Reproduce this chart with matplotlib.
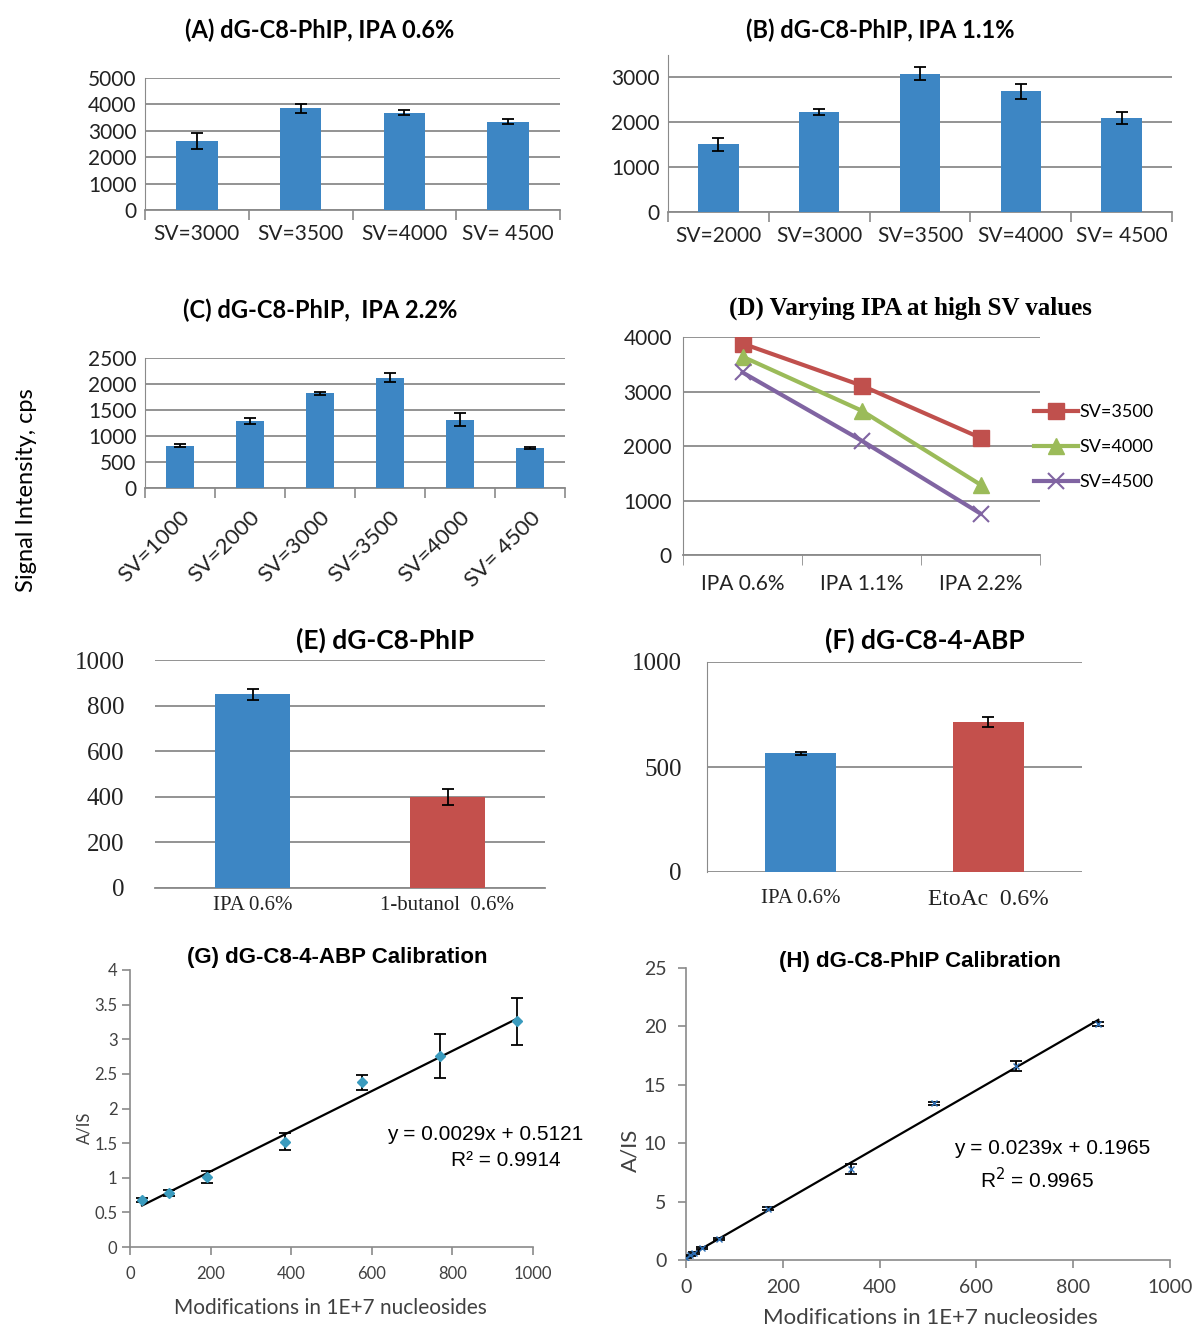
import numpy as np
import matplotlib
matplotlib.use('Agg')
from matplotlib import pyplot as plt

# ---------------- data ----------------
# (A) dG-C8-PhIP, IPA 0.6%
a_labels = ['SV=3000', 'SV=3500', 'SV=4000', 'SV= 4500']
a_vals = [2600, 3850, 3690, 3350]
a_errs = [300, 160, 110, 100]
# (B) dG-C8-PhIP, IPA 1.1%
b_labels = ['SV=2000', 'SV=3000', 'SV=3500', 'SV=4000', 'SV= 4500']
b_vals = [1510, 2230, 3080, 2690, 2100]
b_errs = [150, 70, 145, 170, 140]
# (C) dG-C8-PhIP, IPA 2.2%
c_labels = ['SV=1000', 'SV=2000', 'SV=3000', 'SV=3500', 'SV=4000', 'SV= 4500']
c_vals = [815, 1285, 1820, 2120, 1310, 775]
c_errs = [25, 55, 30, 90, 125, 20]
# (D) Varying IPA at high SV values
d_labels = ['IPA 0.6%', 'IPA 1.1%', 'IPA 2.2%']
d_sv3500 = [3880, 3110, 2150]
d_sv4000 = [3640, 2650, 1290]
d_sv4500 = [3350, 2100, 760]
# (E) dG-C8-PhIP
e_labels = ['IPA 0.6%', '1-butanol  0.6%']
e_vals = [850, 400]
e_errs = [25, 35]
# (F) dG-C8-4-ABP
f_labels = ['IPA 0.6%', 'EtoAc  0.6%']
f_vals = [565, 715]
f_errs = [8, 25]
# (G) dG-C8-4-ABP Calibration
g_x = [30, 96, 192, 384, 576, 768, 960]
g_y = [0.68, 0.78, 1.01, 1.52, 2.38, 2.76, 3.26]
g_err = [0.03, 0.04, 0.09, 0.12, 0.11, 0.32, 0.34]
g_slope, g_icept = 0.0029, 0.5121
# (H) dG-C8-PhIP Calibration
h_x = [0, 8.5, 17, 34, 68, 170, 341, 512, 682, 852]
h_y = [0.2, 0.4, 0.6, 1.0, 1.8, 4.4, 7.8, 13.4, 16.6, 20.2]
h_err = [0.05, 0.05, 0.05, 0.1, 0.1, 0.1, 0.45, 0.15, 0.45, 0.15]
h_slope, h_icept = 0.0239, 0.1965

# ---------------- style ----------------
W, H = 1204, 1330
blue = '#3D86C4'
red = '#C4504C'
grid_c = '#8A8A8A'
axis_c = '#8A8A8A'
calibri = ['Lato', 'DejaVu Sans']
serif = ['Liberation Serif', 'DejaVu Serif']
arial = ['Liberation Sans', 'DejaVu Sans']

fig = plt.figure(figsize=(W / 100, H / 100), dpi=100)
fig.patch.set_facecolor('white')


def add_ax(l, t, r, b):
    # pixel box -> figure fraction
    return fig.add_axes([l / W, 1 - b / H, (r - l) / W, (b - t) / H])


def ftext(x, y, s, **kw):
    fig.text(x / W, 1 - y / H, s, **kw)


def bar_panel(ax, labels, vals, errs, ymax, ystep, colors, width=0.4,
              tickfont=calibri, tsize=15, left_spine=True, cat_ticks=True):
    x = np.arange(len(labels))
    ax.bar(x, vals, width=width, color=colors, yerr=errs, capsize=4,
           error_kw=dict(ecolor='black', elinewidth=1.3, capthick=1.3), zorder=3)
    ax.set_xlim(-0.5, len(labels) - 0.5)
    ax.set_ylim(0, ymax)
    ax.set_yticks(np.arange(0, ymax + 1, ystep))
    ax.yaxis.grid(True, color=grid_c, lw=1.3)
    ax.set_axisbelow(True)
    for s in ['top', 'right']:
        ax.spines[s].set_visible(False)
    ax.spines['left'].set_visible(left_spine)
    ax.spines['left'].set_color(axis_c)
    ax.spines['bottom'].set_color(axis_c)
    ax.spines['bottom'].set_linewidth(1.3)
    ax.tick_params(axis='y', length=0, pad=6)
    ax.set_xticks(x)
    ax.set_xticklabels(labels)
    ax.tick_params(axis='x', length=0, pad=10)
    if cat_ticks:
        ax.set_xticks(np.arange(-0.5, len(labels)), minor=True)
        ax.tick_params(axis='x', which='minor', length=7, color=axis_c,
                       direction='out', width=1.2)
    for t in ax.get_xticklabels() + ax.get_yticklabels():
        t.set_family(tickfont)
        t.set_fontsize(tsize)
        t.set_color('#222222')


# ---------------- (A) ----------------
axA = add_ax(145, 78, 560, 210)
bar_panel(axA, a_labels, a_vals, a_errs, 5000, 1000, blue)
ftext(320, 30, '(A) dG-C8-PhIP, IPA 0.6%', ha='center', va='center',
      family=calibri, fontsize=17, fontweight='bold')

# ---------------- (B) ----------------
axB = add_ax(668, 55, 1172, 212)
bar_panel(axB, b_labels, b_vals, b_errs, 3500, 1000, blue)
axB.set_yticks([0, 1000, 2000, 3000])
for t in axB.get_yticklabels():
    t.set_family(calibri)
    t.set_fontsize(15)
    t.set_color('#222222')
ftext(880, 30, '(B) dG-C8-PhIP, IPA 1.1%', ha='center', va='center',
      family=calibri, fontsize=17, fontweight='bold')

# ---------------- (C) ----------------
axC = add_ax(145, 358, 565, 488)
bar_panel(axC, c_labels, c_vals, c_errs, 2500, 500, blue)
for t in axC.get_xticklabels():
    t.set_rotation(45)
    t.set_ha('right')
    t.set_rotation_mode('anchor')
    t.set_fontsize(16)
axC.tick_params(axis='x', pad=14)
ftext(320, 310, '(C) dG-C8-PhIP,  IPA 2.2%', ha='center', va='center',
      family=calibri, fontsize=17, fontweight='bold')
ftext(27, 490, 'Signal Intensity, cps', ha='center', va='center', rotation=90,
      family=calibri, fontsize=17)

# ---------------- (D) ----------------
axD = add_ax(683, 337, 1040, 555)
xd = np.arange(len(d_labels))
axD.plot(xd, d_sv3500, color='#C0504D', lw=3, marker='s', ms=12,
         label='SV=3500', zorder=4)
axD.plot(xd, d_sv4000, color='#9BBB59', lw=3, marker='^', ms=12,
         label='SV=4000', zorder=4)
axD.plot(xd, d_sv4500, color='#8064A2', lw=3, marker='x', ms=12, mew=1.5,
         label='SV=4500', zorder=4)
axD.set_xlim(-0.5, 2.5)
axD.set_ylim(0, 4000)
axD.set_yticks(np.arange(0, 4001, 1000))
axD.yaxis.grid(True, color=grid_c, lw=1.3)
axD.set_axisbelow(True)
for s in ['top', 'right']:
    axD.spines[s].set_visible(False)
axD.spines['left'].set_color(axis_c)
axD.spines['bottom'].set_color(axis_c)
axD.spines['bottom'].set_linewidth(1.3)
axD.set_xticks(xd)
axD.set_xticklabels(d_labels)
axD.tick_params(axis='x', length=0, pad=14)
axD.tick_params(axis='y', length=0, pad=8)
axD.set_xticks(np.arange(-0.5, 3), minor=True)
axD.tick_params(axis='x', which='minor', length=7, color=axis_c, direction='out')
for t in axD.get_xticklabels() + axD.get_yticklabels():
    t.set_family(calibri)
    t.set_fontsize(15)
    t.set_color('#222222')
axD.legend(loc='upper left', bbox_to_anchor=(1018 / W, 1 - 388 / H),
           bbox_transform=fig.transFigure, frameon=False, handlelength=2.4,
           handletextpad=0.1, labelspacing=1.05, prop={'family': calibri, 'size': 13})
ftext(910, 308, '(D) Varying IPA at high SV values', ha='center', va='center',
      family=serif, fontsize=18, fontweight='bold')

# ---------------- (E) ----------------
axE = add_ax(155, 660, 545, 888)
bar_panel(axE, e_labels, e_vals, e_errs, 1000, 200, [blue, red], width=0.38,
          tickfont=serif, tsize=18, left_spine=False, cat_ticks=False)
for t in axE.get_xticklabels():
    t.set_fontsize(15)
axE.tick_params(axis='x', pad=6)
axE.tick_params(axis='y', pad=22)
ftext(385, 640, '(E) dG-C8-PhIP', ha='center', va='center',
      family=calibri, fontsize=19, fontweight='bold')

# ---------------- (F) ----------------
axF = add_ax(707, 662, 1082, 872)
bar_panel(axF, f_labels, f_vals, f_errs, 1000, 500, [blue, red], width=0.38,
          tickfont=serif, tsize=18, left_spine=True, cat_ticks=False)
axF.spines['bottom'].set_visible(False)
for t in axF.get_xticklabels():
    t.set_fontsize(15)
axF.get_xticklabels()[1].set_fontsize(17)
axF.tick_params(axis='x', pad=12)
axF.tick_params(axis='y', pad=18)
ftext(925, 640, '(F) dG-C8-4-ABP', ha='center', va='center',
      family=calibri, fontsize=19, fontweight='bold')


def calib_panel(ax, xs, ys, errs, slope, icept, ymax, ystep, marker, mcolor,
                tsize, ypad):
    xl = np.array([min(xs), max(xs)])
    ax.plot(xl, slope * xl + icept, color='black', lw=1.6, zorder=2)
    ax.errorbar(xs, ys, yerr=errs, fmt=marker, color=mcolor, ms=5,
                ecolor='black', elinewidth=1.3, capsize=4, capthick=1.3, zorder=3)
    ax.set_xlim(0, 1000)
    ax.set_ylim(0, ymax)
    ax.set_xticks(np.arange(0, 1001, 200))
    ax.set_yticks(np.arange(0, ymax + 0.01, ystep))
    ax.yaxis.set_major_formatter(matplotlib.ticker.FuncFormatter(
        lambda v, p: ('%g' % v)))
    for s in ['top', 'right']:
        ax.spines[s].set_visible(False)
    for s in ['left', 'bottom']:
        ax.spines[s].set_color(axis_c)
        ax.spines[s].set_linewidth(1.2)
    ax.tick_params(direction='out', length=6, color=axis_c, width=1.2, pad=8)
    ax.tick_params(axis='y', pad=ypad)
    for t in ax.get_xticklabels() + ax.get_yticklabels():
        t.set_family(calibri)
        t.set_fontsize(tsize)
        t.set_color('#404040')


# ---------------- (G) ----------------
axG = add_ax(130, 970, 533, 1247)
calib_panel(axG, g_x, g_y, g_err, g_slope, g_icept, 4, 0.5, 'D', '#3A9BBE', 12, 3)
ftext(337, 957, '(G) dG-C8-4-ABP Calibration', ha='center', va='center',
      family=arial, fontsize=16, fontweight='bold')
ftext(330, 1308, 'Modifications in 1E+7 nucleosides', ha='center', va='center',
      family=calibri, fontsize=15, color='#404040')
ftext(84, 1128, 'A/IS', ha='center', va='center', rotation=90,
      family=calibri, fontsize=12, color='#404040')
ftext(583, 1135, 'y = 0.0029x + 0.5121', ha='right', va='center',
      family=arial, fontsize=15)
ftext(506, 1161, 'R² = 0.9914', ha='center', va='center',
      family=arial, fontsize=15)

# ---------------- (H) ----------------
axH = add_ax(686, 968, 1170, 1260)
calib_panel(axH, h_x, h_y, h_err, h_slope, h_icept, 25, 5, 'x', '#2E6FB5', 14, 8)
ftext(920, 962, '(H) dG-C8-PhIP Calibration', ha='center', va='center',
      family=arial, fontsize=16, fontweight='bold')
ftext(930, 1318, 'Modifications in 1E+7 nucleosides', ha='center', va='center',
      family=calibri, fontsize=16, color='#404040')
ftext(630, 1150, 'A/IS', ha='center', va='center', rotation=90,
      family=calibri, fontsize=16, color='#404040')
ftext(1150, 1148, 'y = 0.0239x + 0.1965', ha='right', va='center',
      family=arial, fontsize=15)
ftext(1037, 1180, 'R$^2$ = 0.9965', ha='center', va='center',
      family=arial, fontsize=15)

fig.savefig('out.png', dpi=100)
